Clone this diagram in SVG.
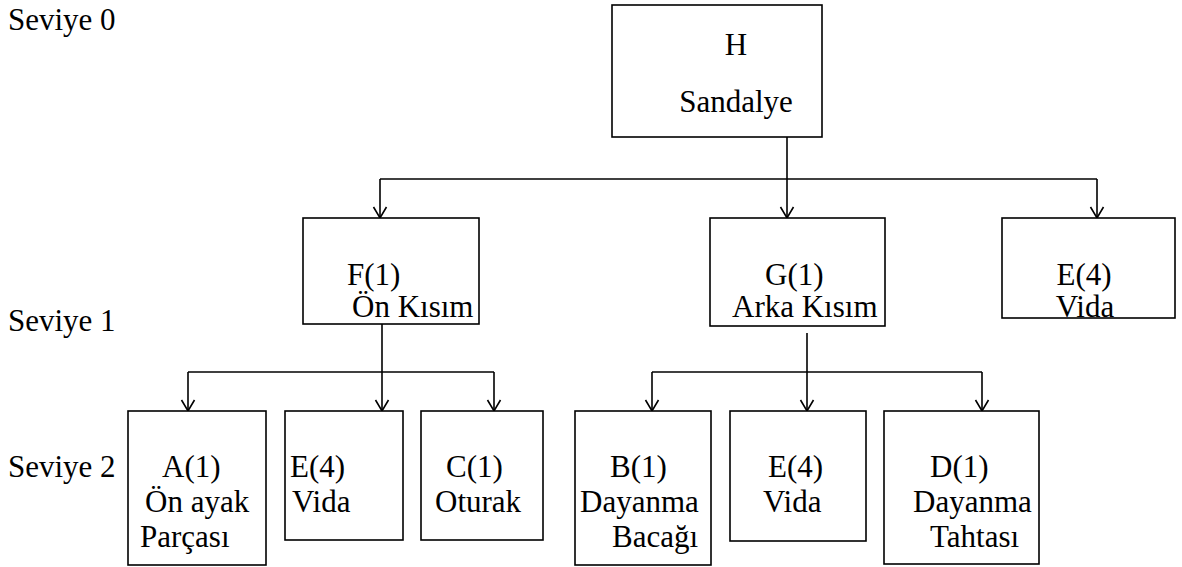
<svg xmlns="http://www.w3.org/2000/svg" width="1182" height="567" viewBox="0 0 1182 567">
  <style>
    .box { fill: #ffffff; stroke: #000000; stroke-width: 1.6; }
    .edge { fill: none; stroke: #000000; stroke-width: 1.6; }
  </style>
  <defs>
    <!-- open V arrowhead, tip at the end of the line -->
    <marker id="arrow" markerUnits="userSpaceOnUse" markerWidth="20" markerHeight="20" refX="13" refY="10" orient="auto" viewBox="0 0 20 20">
      <path d="M2,3.5 L13,10 L2,16.5" fill="none" stroke="#000000" stroke-width="1.6"/>
    </marker>
  </defs>

  <rect width="1182" height="567" fill="#ffffff"/>

  <!-- level labels -->
  <g id="levels">
    <text x="8" y="30" font-family="Liberation Serif" font-size="31">Seviye 0</text>
    <text x="8" y="331" font-family="Liberation Serif" font-size="31">Seviye 1</text>
    <text x="8" y="477" font-family="Liberation Serif" font-size="31">Seviye 2</text>
  </g>

  <!-- connectors -->
  <g id="connectors">
    <!-- H to level 1 -->
    <path class="edge" d="M787,137 V179"/>
    <path class="edge" d="M380,179 H1097"/>
    <path class="edge" d="M380,179 V218" marker-end="url(#arrow)"/>
    <path class="edge" d="M787,179 V218" marker-end="url(#arrow)"/>
    <path class="edge" d="M1097,179 V218" marker-end="url(#arrow)"/>
    <!-- F to level 2 -->
    <path class="edge" d="M382,324 V372"/>
    <path class="edge" d="M188,372 H494"/>
    <path class="edge" d="M188,372 V411" marker-end="url(#arrow)"/>
    <path class="edge" d="M382,372 V411" marker-end="url(#arrow)"/>
    <path class="edge" d="M494,372 V411" marker-end="url(#arrow)"/>
    <!-- G to level 2 -->
    <path class="edge" d="M807,333 V372"/>
    <path class="edge" d="M652,372 H982"/>
    <path class="edge" d="M652,372 V411" marker-end="url(#arrow)"/>
    <path class="edge" d="M807,372 V411" marker-end="url(#arrow)"/>
    <path class="edge" d="M982,372 V411" marker-end="url(#arrow)"/>
  </g>

  <!-- level 0 -->
  <g id="node-H">
    <rect class="box" x="612" y="5" width="210" height="132"/>
    <text x="736" y="55" text-anchor="middle" font-family="Liberation Serif" font-size="31">H</text>
    <text x="736" y="112" text-anchor="middle" font-family="Liberation Serif" font-size="31">Sandalye</text>
  </g>

  <!-- level 1 -->
  <g id="node-F">
    <rect class="box" x="303" y="218" width="176" height="106"/>
    <text x="347" y="285" font-family="Liberation Serif" font-size="31">F(1)</text>
    <text x="352" y="317" font-family="Liberation Serif" font-size="31">Ön Kısım</text>
  </g>
  <g id="node-G">
    <rect class="box" x="710" y="218" width="175" height="108"/>
    <text x="765" y="285" font-family="Liberation Serif" font-size="31">G(1)</text>
    <text x="732" y="317" font-family="Liberation Serif" font-size="31">Arka Kısım</text>
  </g>
  <g id="node-E1">
    <rect class="box" x="1002" y="218" width="173" height="100"/>
    <text x="1084" y="285" text-anchor="middle" font-family="Liberation Serif" font-size="31">E(4)</text>
    <text x="1085" y="317" text-anchor="middle" font-family="Liberation Serif" font-size="31">Vida</text>
  </g>

  <!-- level 2 -->
  <g id="node-A">
    <rect class="box" x="128" y="411" width="138" height="154"/>
    <text x="162" y="477" font-family="Liberation Serif" font-size="31">A(1)</text>
    <text x="145" y="512" font-family="Liberation Serif" font-size="31">Ön ayak</text>
    <text x="140" y="547" font-family="Liberation Serif" font-size="31">Parçası</text>
  </g>
  <g id="node-E2">
    <rect class="box" x="285" y="411" width="118" height="129"/>
    <text x="290" y="477" font-family="Liberation Serif" font-size="31">E(4)</text>
    <text x="292" y="512" font-family="Liberation Serif" font-size="31">Vida</text>
  </g>
  <g id="node-C">
    <rect class="box" x="421" y="411" width="122" height="129"/>
    <text x="446" y="477" font-family="Liberation Serif" font-size="31">C(1)</text>
    <text x="435" y="512" font-family="Liberation Serif" font-size="31">Oturak</text>
  </g>
  <g id="node-B">
    <rect class="box" x="575" y="411" width="136" height="154"/>
    <text x="610" y="477" font-family="Liberation Serif" font-size="31">B(1)</text>
    <text x="580" y="512" font-family="Liberation Serif" font-size="31">Dayanma</text>
    <text x="612" y="547" font-family="Liberation Serif" font-size="31">Bacağı</text>
  </g>
  <g id="node-E3">
    <rect class="box" x="730" y="411" width="136" height="130"/>
    <text x="768" y="477" font-family="Liberation Serif" font-size="31">E(4)</text>
    <text x="763" y="512" font-family="Liberation Serif" font-size="31">Vida</text>
  </g>
  <g id="node-D">
    <rect class="box" x="884" y="411" width="155" height="153"/>
    <text x="930" y="477" font-family="Liberation Serif" font-size="31">D(1)</text>
    <text x="913" y="512" font-family="Liberation Serif" font-size="31">Dayanma</text>
    <text x="930" y="547" font-family="Liberation Serif" font-size="31">Tahtası</text>
  </g>
</svg>
